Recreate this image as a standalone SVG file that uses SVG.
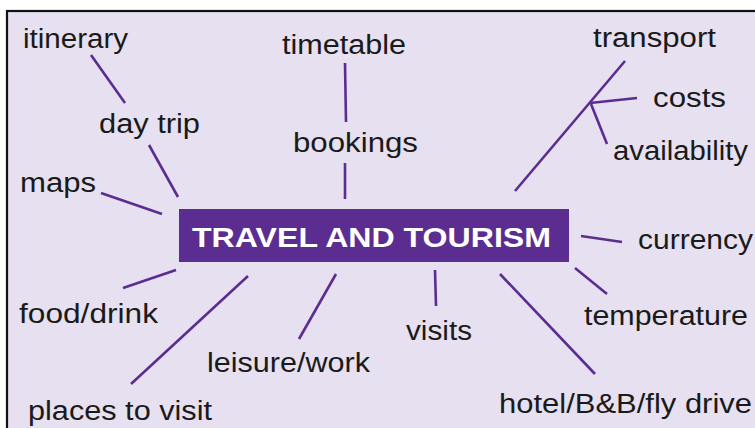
<svg xmlns="http://www.w3.org/2000/svg" width="755" height="428" viewBox="0 0 755 428">
<style>
.lbl{font-family:"Liberation Sans",Arial,sans-serif;font-size:27px;fill:#1a1a1a;}
.title{font-family:"Liberation Sans",Arial,sans-serif;font-size:28px;font-weight:bold;fill:#ffffff;}
.con line{stroke:#5c2d91;stroke-width:2.6;stroke-linecap:butt;}
</style>
<rect x="0" y="0" width="755" height="428" fill="#ffffff"/>
<rect id="frame" x="7" y="11" width="760" height="430" fill="#e6e0f0" stroke="#111111" stroke-width="2.2"/>
<g class="con" id="connectors">
<line x1="91" y1="55" x2="125" y2="103"/>
<line x1="149" y1="145" x2="178" y2="197"/>
<line x1="101" y1="193" x2="162" y2="214"/>
<line x1="345" y1="63" x2="346" y2="122"/>
<line x1="345" y1="163" x2="345" y2="199"/>
<line x1="625" y1="61" x2="515" y2="191"/>
<line x1="637" y1="98" x2="590" y2="103"/>
<line x1="591" y1="104" x2="607" y2="144"/>
<line x1="581" y1="236" x2="622" y2="242"/>
<line x1="575" y1="268" x2="607" y2="294"/>
<line x1="435" y1="270" x2="436" y2="306"/>
<line x1="500" y1="274" x2="595" y2="374"/>
<line x1="336" y1="274" x2="299" y2="339"/>
<line x1="248" y1="276" x2="131" y2="384"/>
<line x1="176" y1="270" x2="123" y2="288"/>
</g>
<g id="center">
<rect x="179" y="209" width="390" height="53" fill="#5c2d91"/>
<text class="title" x="192" y="247" textLength="359" lengthAdjust="spacingAndGlyphs">TRAVEL AND TOURISM</text>
</g>
<g id="n-itinerary"><text class="lbl" x="23" y="48" textLength="105" lengthAdjust="spacingAndGlyphs">itinerary</text></g>
<g id="n-timetable"><text class="lbl" x="282" y="54" textLength="124" lengthAdjust="spacingAndGlyphs">timetable</text></g>
<g id="n-daytrip"><text class="lbl" x="99" y="133" textLength="101" lengthAdjust="spacingAndGlyphs">day trip</text></g>
<g id="n-bookings"><text class="lbl" x="293" y="152" textLength="125" lengthAdjust="spacingAndGlyphs">bookings</text></g>
<g id="n-maps"><text class="lbl" x="20" y="192" textLength="76" lengthAdjust="spacingAndGlyphs">maps</text></g>
<g id="n-transport"><text class="lbl" x="593" y="47" textLength="123" lengthAdjust="spacingAndGlyphs">transport</text></g>
<g id="n-costs"><text class="lbl" x="653" y="107" textLength="73" lengthAdjust="spacingAndGlyphs">costs</text></g>
<g id="n-availability"><text class="lbl" x="613" y="160" textLength="135" lengthAdjust="spacingAndGlyphs">availability</text></g>
<g id="n-currency"><text class="lbl" x="638" y="249" textLength="115" lengthAdjust="spacingAndGlyphs">currency</text></g>
<g id="n-temperature"><text class="lbl" x="584" y="325" textLength="164" lengthAdjust="spacingAndGlyphs">temperature</text></g>
<g id="n-visits"><text class="lbl" x="406" y="340" textLength="66" lengthAdjust="spacingAndGlyphs">visits</text></g>
<g id="n-hotel"><text class="lbl" x="499" y="413" textLength="253" lengthAdjust="spacingAndGlyphs">hotel/B&amp;B/fly drive</text></g>
<g id="n-food"><text class="lbl" x="19" y="323" textLength="139" lengthAdjust="spacingAndGlyphs">food/drink</text></g>
<g id="n-leisure"><text class="lbl" x="207" y="372" textLength="163" lengthAdjust="spacingAndGlyphs">leisure/work</text></g>
<g id="n-places"><text class="lbl" x="28" y="420" textLength="184" lengthAdjust="spacingAndGlyphs">places to visit</text></g>
</svg>
